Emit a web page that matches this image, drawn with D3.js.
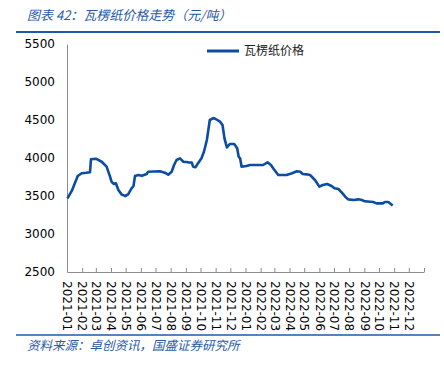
<!DOCTYPE html>
<html>
<head>
<meta charset="utf-8">
<script src="https://cdn.jsdelivr.net/npm/d3@7"></script>
<style>
  body { margin: 0; background: #fff; }
  svg { display: block; }
</style>
</head>
<body>
<div id="chart"></div>
<script>
// price readings (元/吨)
const dates = [
  "2021-01-02", "2021-01-11", "2021-01-17", "2021-01-23", "2021-01-31", "2021-02-09",
  "2021-02-17", "2021-02-19", "2021-03-01", "2021-03-13", "2021-03-23", "2021-03-30",
  "2021-04-02", "2021-04-07", "2021-04-11", "2021-04-16", "2021-04-23", "2021-04-30",
  "2021-05-06", "2021-05-13", "2021-05-17", "2021-05-20", "2021-05-27", "2021-06-03",
  "2021-06-13", "2021-06-16", "2021-06-28", "2021-07-10", "2021-07-20", "2021-07-27",
  "2021-08-03", "2021-08-08", "2021-08-13", "2021-08-20", "2021-08-27", "2021-09-06",
  "2021-09-13", "2021-09-16", "2021-09-21", "2021-09-26", "2021-10-03", "2021-10-08",
  "2021-10-14", "2021-10-20", "2021-10-27", "2021-11-01", "2021-11-10", "2021-11-15",
  "2021-11-19", "2021-11-24", "2021-11-30", "2021-12-09", "2021-12-15", "2021-12-18",
  "2021-12-21", "2021-12-24", "2022-01-03", "2022-01-10", "2022-02-06", "2022-02-15",
  "2022-02-22", "2022-02-28", "2022-03-09", "2022-03-26", "2022-04-06", "2022-04-16",
  "2022-04-23", "2022-04-28", "2022-05-06", "2022-05-13", "2022-05-23", "2022-06-01",
  "2022-06-08", "2022-06-17", "2022-06-26", "2022-07-02", "2022-07-10", "2022-07-17",
  "2022-07-24", "2022-07-30", "2022-08-10", "2022-08-20", "2022-08-27", "2022-09-02",
  "2022-09-19", "2022-09-26", "2022-10-09", "2022-10-13", "2022-10-20", "2022-10-29"
];
const prices = [
  3470, 3570, 3667, 3763, 3799, 3805,
  3812, 3983, 3991, 3951, 3886, 3754,
  3688, 3658, 3667, 3579, 3518, 3500,
  3522, 3601, 3632, 3763, 3776, 3767,
  3789, 3820, 3822, 3825, 3807, 3780,
  3820, 3908, 3974, 3996, 3951, 3943,
  3940, 3886, 3880, 3930, 3996, 4083,
  4237, 4500, 4526, 4513, 4478, 4434,
  4259, 4140, 4184, 4184, 4128, 4017,
  3996, 3886, 3895, 3908, 3908, 3943,
  3908, 3851, 3776, 3776, 3799, 3825,
  3820, 3789, 3785, 3776, 3711, 3623,
  3645, 3658, 3632, 3601, 3592, 3544,
  3491, 3456, 3447, 3456, 3447, 3430,
  3421, 3403, 3403, 3421, 3421, 3375
];
const yTicks = [2500, 3000, 3500, 4000, 4500, 5000, 5500];
const seriesName = "瓦楞纸价格";
const titleText = "图表 42：瓦楞纸价格走势（元/吨）";
const sourceText = "资料来源：卓创资讯，国盛证券研究所";

const width = 444, height = 368;
const margins = { top: 44, right: 20, bot: 96, left: 67 };
const blue = "#0a4da2";
const cjk = "'Noto Sans CJK SC', sans-serif";

const parse = d3.timeParse("%Y-%m-%d");
const data = dates.map((d, i) => ({ date: parse(d), value: prices[i] }));

const svg = d3.select("#chart").append("svg")
  .attr("width", width)
  .attr("height", height);

// header and footer
svg.append("text")
  .text(titleText)
  .attr("x", 27)
  .attr("y", 20)
  .attr("font-family", cjk)
  .attr("font-style", "italic")
  .attr("font-size", 13)
  .attr("fill", "#2a5aa8");
svg.append("line")
  .attr("x1", 16).attr("x2", 440)
  .attr("y1", 32).attr("y2", 32)
  .attr("stroke", "#1f58a8").attr("stroke-width", 2);
svg.append("line")
  .attr("x1", 16).attr("x2", 440)
  .attr("y1", 335).attr("y2", 335)
  .attr("stroke", "#1f58a8").attr("stroke-width", 1.5);
svg.append("text")
  .text(sourceText)
  .attr("x", 27)
  .attr("y", 350)
  .attr("font-family", cjk)
  .attr("font-style", "italic")
  .attr("font-size", 12.5)
  .attr("fill", "#2a5aa8");

const x = d3.scaleTime()
  .domain([parse("2021-01-01"), parse("2023-01-01")])
  .range([margins.left, width - margins.right]);
const y = d3.scaleLinear()
  .domain([2500, 5500])
  .range([height - margins.bot, margins.top]);

// y axis
const yAxis = svg.append("g")
  .attr("transform", `translate(${margins.left},0)`)
  .call(d3.axisLeft(y).tickValues(yTicks).tickFormat(d3.format("d"))
    .tickSize(0).tickPadding(12));
yAxis.select(".domain").attr("stroke", "#8c8c8c");
yAxis.selectAll("text")
  .attr("font-family", "'DejaVu Sans', sans-serif")
  .attr("font-size", 12)
  .attr("fill", "#000");

// x axis, one tick per month
const months = d3.timeMonth.range(parse("2021-01-01"), parse("2023-01-02"));
const xAxis = svg.append("g")
  .attr("transform", `translate(0,${height - margins.bot})`)
  .call(d3.axisBottom(x).tickValues(months).tickSizeInner(-4).tickSizeOuter(0)
    .tickFormat((d) => d < parse("2023-01-01") ? d3.timeFormat("%Y-%m")(d) : ""));
xAxis.select(".domain").attr("stroke", "#8c8c8c");
xAxis.selectAll(".tick line").attr("stroke", "#8c8c8c");
xAxis.selectAll("text")
  .attr("font-family", "'DejaVu Sans', sans-serif")
  .attr("font-size", 12)
  .attr("fill", "#000")
  .attr("text-anchor", "start")
  .attr("transform", "rotate(90)")
  .attr("x", 9)
  .attr("y", 0)
  .attr("dy", "0.35em");

// series line
const line = d3.line()
  .x((d) => x(d.date))
  .y((d) => y(d.value));
svg.append("path")
  .datum(data)
  .attr("d", line)
  .attr("fill", "none")
  .attr("stroke", blue)
  .attr("stroke-width", 2.6)
  .attr("stroke-linejoin", "round");

// legend
const legend = svg.append("g").attr("transform", "translate(207,51)");
legend.append("line")
  .attr("x1", 0).attr("x2", 32)
  .attr("stroke", blue).attr("stroke-width", 3);
legend.append("text")
  .text(seriesName)
  .attr("x", 37)
  .attr("y", 0)
  .attr("dy", "0.35em")
  .attr("font-family", cjk)
  .attr("font-size", 12)
  .attr("fill", "#222");
</script>
</body>
</html>
